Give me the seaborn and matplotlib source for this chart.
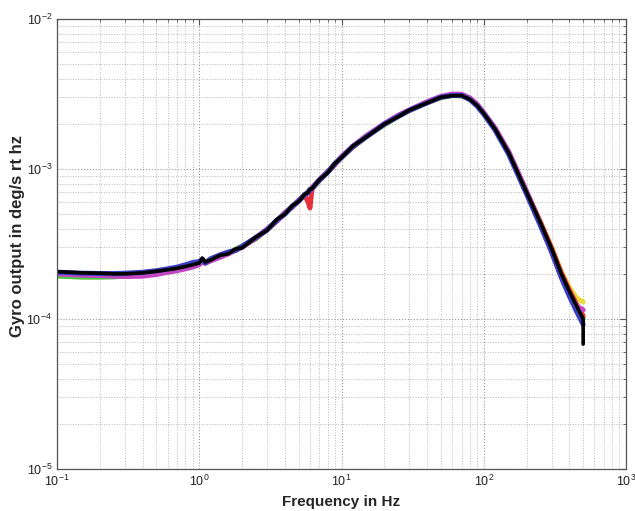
import numpy as np
import pandas as pd
import matplotlib
matplotlib.use('Agg')
import matplotlib.pyplot as plt
import seaborn as sns

# ==================================================================================
# Gyro output PSD, several runs overlaid (units 1e-4 deg/s rt hz)
# ==================================================================================

freq = [0.1, 0.12, 0.15, 0.2, 0.25, 0.3, 0.4, 0.5, 0.6, 0.7, 0.8, 0.9, 1.0, 1.05, 1.1, 1.2,
        1.4, 1.6, 1.8, 2.0, 2.5, 3.0, 3.5, 4.0, 4.5, 5.0, 5.5, 5.8, 6.0, 6.2, 7.0, 8.0, 9.0,
        10, 12, 15, 20, 25, 30, 40, 50, 60, 70, 80, 90, 100, 120, 150, 200, 250, 300, 350,
        400, 450, 500]

run_black = [2.07, 2.05, 2.03, 2.02, 2.00, 2.00, 2.03, 2.08, 2.13, 2.18, 2.24, 2.30, 2.36, 2.55,
             2.40, 2.47, 2.66, 2.72, 2.93, 2.98, 3.52, 3.90, 4.60, 5.00, 5.68, 6.08, 6.78, 6.95,
             7.32, 7.40, 8.50, 9.45, 10.9, 11.9, 14.2, 16.4, 19.9, 22.3, 24.7, 27.6, 30.1, 30.8,
             30.9, 29.1, 26.5, 23.5, 18.5, 12.8, 7.00, 4.40, 2.95, 2.02, 1.53, 1.22, 1.00]
run_blue = [2.05, 2.04, 2.02, 2.01, 2.01, 2.02, 2.05, 2.10, 2.16, 2.22, 2.30, 2.38, 2.42, 2.50,
            2.36, 2.52, 2.68, 2.80, 2.86, 3.05, 3.50, 3.92, 4.55, 5.00, 5.65, 6.10, 6.75, 6.95,
            7.30, 7.40, 8.45, 9.50, 10.9, 11.9, 14.1, 16.4, 19.9, 22.4, 24.6, 27.6, 30.1, 30.9,
            30.9, 29.0, 26.2, 23.2, 18.2, 12.5, 6.80, 4.20, 2.80, 1.90, 1.42, 1.12, 0.92]
run_magenta = [2.00, 1.98, 1.96, 1.95, 1.93, 1.92, 1.93, 1.98, 2.05, 2.10, 2.16, 2.22, 2.30, 2.42,
               2.35, 2.44, 2.58, 2.72, 2.88, 3.00, 3.48, 3.98, 4.48, 5.12, 5.55, 6.20, 6.65, 7.05,
               7.20, 7.50, 8.50, 9.60, 10.7, 12.1, 14.2, 16.7, 20.1, 22.8, 24.8, 28.1, 30.5, 31.6,
               31.5, 29.8, 27.0, 23.8, 18.8, 13.0, 7.10, 4.30, 2.80, 1.92, 1.45, 1.22, 1.15]
run_green = [1.93, 1.92, 1.90, 1.90, 1.91, 1.93, 1.96, 2.00, 2.07, 2.12, 2.20, 2.26, 2.33, 2.40,
             2.38, 2.46, 2.64, 2.74, 2.92, 3.06, 3.42, 3.97, 4.50, 5.10, 5.58, 6.18, 6.68, 6.98,
             7.28, 7.42, 8.38, 9.58, 10.8, 12.0, 14.0, 16.5, 19.7, 22.4, 24.5, 27.7, 29.9, 30.9,
             30.7, 29.2, 26.4, 23.4, 18.4, 12.7, 6.95, 4.35, 2.92, 2.00, 1.50, 1.20, 1.02]
run_red = [2.02, 2.00, 1.98, 1.97, 1.96, 1.96, 1.99, 2.03, 2.09, 2.14, 2.20, 2.27, 2.33, 2.45,
           2.38, 2.46, 2.60, 2.74, 2.89, 3.02, 3.46, 3.94, 4.50, 5.06, 5.60, 6.15, 6.65, 6.10,
           5.50, 7.40, 8.42, 9.56, 10.8, 12.0, 14.0, 16.6, 19.9, 22.6, 24.6, 27.9, 30.2, 31.2,
           31.0, 29.4, 26.6, 23.6, 18.6, 12.9, 7.05, 4.42, 2.96, 2.04, 1.55, 1.25, 1.05]
run_yellow = [2.04, 2.03, 2.01, 2.00, 1.99, 1.99, 2.02, 2.06, 2.12, 2.17, 2.23, 2.29, 2.35, 2.50,
              2.42, 2.48, 2.63, 2.75, 2.91, 3.03, 3.47, 3.96, 4.53, 5.09, 5.62, 6.16, 6.71, 7.02,
              7.27, 7.46, 8.41, 9.56, 10.8, 12.0, 14.0, 16.5, 19.8, 22.5, 24.5, 27.8, 30.0, 31.0,
              30.8, 29.3, 26.5, 23.5, 18.5, 12.8, 7.00, 4.45, 3.00, 2.08, 1.62, 1.38, 1.30]

# black trace ends with a drop at the last bin
black_tail_freq = [500, 500]
black_tail = [1.00, 0.68]

runs = {'yellow': run_yellow, 'green': run_green, 'red': run_red,
        'magenta': run_magenta, 'blue': run_blue}
run_colors = {'yellow': '#ecd93a', 'green': '#4fc73e', 'red': '#e8303a',
              'magenta': '#c246c4', 'blue': '#3b3fc8'}

# -------------------------------------
# Plot
sns.set_style('white')
plt.rcParams['font.family'] = ['Liberation Sans', 'DejaVu Sans']

fig = plt.figure(figsize=(6.35, 5.11), dpi=100)
ax = fig.add_axes([0.0898, 0.0822, 0.896, 0.8806])

for name, vals in runs.items():
    df = pd.DataFrame({'freq': freq, 'psd': np.array(vals) * 1e-4})
    sns.lineplot(x='freq', y='psd', data=df, ax=ax, color=run_colors[name], lw=3.6,
                 sort=False, estimator=None)

df_k = pd.DataFrame({'freq': freq + black_tail_freq,
                     'psd': np.array(run_black + black_tail) * 1e-4})
sns.lineplot(x='freq', y='psd', data=df_k, ax=ax, color='black', lw=2.6, sort=False, estimator=None)

ax.set_xscale('log')
ax.set_yscale('log')
ax.set_xlim(0.1, 1000)
ax.set_ylim(1e-5, 1e-2)

ax.grid(True, which='major', ls=':', color='#9a9a9a', lw=0.8)
ax.grid(True, which='minor', ls=':', color='#b8b8b8', lw=0.7)
ax.set_axisbelow(True)

for sp in ax.spines.values():
    sp.set_color('#555555')
    sp.set_linewidth(0.9)

ax.tick_params(which='both', direction='in', top=True, right=True, colors='#555555',
               labelcolor='#222222', labelsize=9)
ax.tick_params(which='major', length=4)
ax.tick_params(which='minor', length=2)

ax.set_xlabel('Frequency in Hz', fontsize=11, fontweight='bold', labelpad=4)
ax.set_ylabel('Gyro output in deg/s rt hz', fontsize=12, fontweight='bold')
ax.yaxis.set_label_coords(-0.056, 0.518)

fig.savefig('out.png', dpi=100)
